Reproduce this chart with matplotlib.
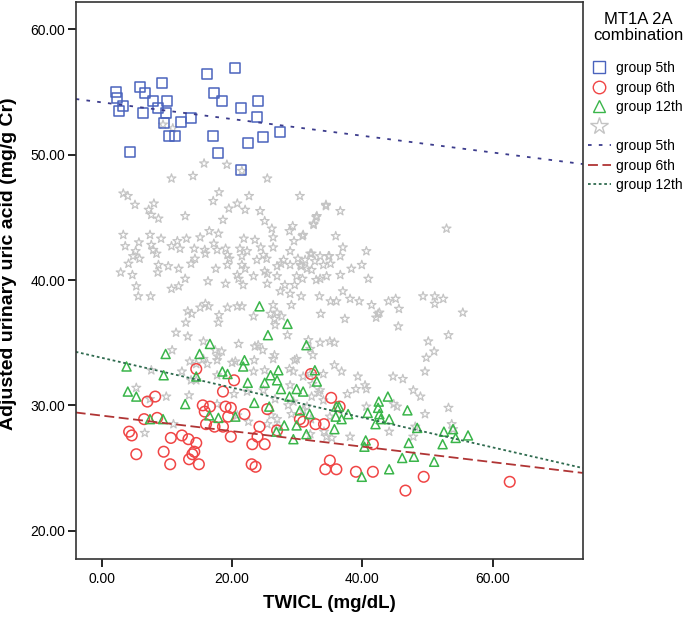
import numpy as np
import matplotlib
matplotlib.use("Agg")
from matplotlib import pyplot as plt
from matplotlib.lines import Line2D
from matplotlib.ticker import FormatStrFormatter

plt.rcParams['font.family'] = ['Liberation Sans', 'DejaVu Sans']

# group 5th (squares)
g5_x = [2.2, 2.3, 3.2, 2.7, 5.9, 6.6, 7.9, 9.2, 10.0, 8.7, 9.8, 6.3, 9.6, 12.2, 13.7,
        10.3, 11.2, 4.4, 16.2, 20.4, 17.2, 18.5, 21.3, 23.9, 23.8, 27.4, 24.8, 22.5, 17.1,
        17.9, 21.3]
g5_y = [55.0, 54.5, 53.9, 53.5, 55.4, 54.9, 54.3, 55.7, 54.3, 53.7, 53.3, 53.3, 52.5, 52.6,
        52.9, 51.5, 51.5, 50.2, 56.4, 56.9, 54.9, 54.3, 53.7, 54.3, 53.0, 51.8, 51.4, 50.9,
        51.5, 50.1, 48.8]

# group 6th (circles)
g6_x = [14.5, 20.3, 18.6, 32.1, 7.0, 8.2, 6.5, 8.5, 4.2, 4.6, 5.3, 10.6, 12.3, 13.3, 14.5,
        14.2, 13.9, 13.4, 14.9, 9.5, 10.5, 15.5, 16.6, 15.8, 19.0, 19.8, 19.4, 21.9, 25.4,
        16.0, 17.3, 18.6, 19.8, 24.2, 23.9, 23.1, 25.0, 26.9, 23.0, 23.6, 30.4, 30.9, 32.8,
        34.1, 35.2, 35.0, 34.3, 36.0, 36.5, 41.6, 39.0, 41.6, 49.4, 46.6, 62.6]
g6_y = [32.9, 32.0, 31.1, 32.5, 30.3, 30.7, 28.9, 29.0, 27.9, 27.6, 26.1, 27.4, 27.6, 27.3,
        27.0, 26.3, 26.1, 25.7, 25.3, 26.3, 25.3, 30.0, 29.9, 29.5, 29.9, 29.8, 29.1, 29.3,
        29.7, 28.5, 28.3, 28.3, 27.5, 28.3, 27.5, 26.9, 26.9, 28.0, 25.3, 25.1, 28.9, 28.7,
        28.5, 28.5, 30.6, 25.6, 24.9, 24.9, 29.9, 26.9, 24.7, 24.7, 24.3, 23.2, 23.9]

# group 12th (triangles)
g12_x = [24.2, 28.5, 25.5, 16.6, 9.8, 15.0, 31.4, 3.8, 9.5, 14.5, 18.5, 19.3, 21.9, 21.7,
         22.4, 25.0, 25.9, 27.1, 26.9, 33.0, 32.7, 4.0, 5.3, 12.8, 23.4, 25.7, 27.5, 29.9,
         30.9, 28.8, 30.4, 31.9, 36.0, 35.9, 16.5, 17.9, 20.5, 7.4, 9.4, 28.0, 29.9, 26.8,
         31.4, 29.4, 35.7, 36.4, 36.8, 37.8, 40.8, 42.5, 43.9, 42.4, 42.6, 42.8, 42.0, 44.1,
         46.9, 48.4, 40.5, 40.3, 47.1, 47.9, 46.1, 44.1, 39.9, 51.0, 52.3, 52.5, 53.9, 54.3,
         56.2]
g12_y = [37.9, 36.5, 35.6, 34.9, 34.1, 34.1, 34.8, 33.1, 32.4, 32.3, 32.7, 32.5, 33.6, 33.1,
         31.8, 31.8, 32.4, 32.8, 32.0, 31.9, 32.8, 31.1, 30.7, 30.1, 30.2, 29.9, 31.3, 31.3,
         31.1, 30.7, 29.6, 29.3, 29.9, 29.1, 29.2, 29.0, 29.1, 28.9, 28.9, 28.4, 28.4, 27.9,
         27.7, 27.3, 28.1, 29.9, 28.9, 29.3, 29.4, 30.3, 30.7, 29.8, 29.3, 28.9, 28.5, 28.9,
         29.6, 28.2, 27.2, 26.7, 27.0, 25.9, 25.8, 24.9, 24.3, 25.5, 26.9, 27.9, 28.1, 27.4,
         27.6]

# other combinations (stars)
oth_x = [15.7, 19.2, 10.7, 14.0, 21.5, 25.4, 3.3, 4.0, 5.1, 8.0, 7.2, 7.6, 8.7, 12.8, 18.0,
         17.1, 20.8, 22.6, 19.5, 22.0, 24.3, 30.4, 34.4, 18.6, 25.0, 26.1, 33.0, 32.5, 29.3,
         28.8, 3.3, 7.4, 9.1, 5.7, 3.6, 7.6, 11.6, 13.0, 15.1, 16.5, 17.9, 17.2, 21.8,
         23.5, 26.3, 29.5, 30.9, 10.7, 12.0, 14.2, 15.8, 17.7, 19.0, 21.2, 22.3, 24.4, 26.3,
         28.9, 32.0, 5.2, 7.9, 4.8, 5.8, 8.4, 14.3, 15.9, 19.3, 19.6, 21.5, 24.8, 25.3,
         23.8, 27.9, 30.1, 33.5, 34.9, 4.1, 8.7, 10.2, 11.8, 13.7, 17.5, 19.3, 21.5, 22.0,
         25.0, 26.9, 27.5, 28.9, 30.5, 31.5, 32.2, 34.0, 2.9, 4.7, 8.6, 12.8, 16.3, 20.8,
         21.0, 23.3, 25.4, 26.9, 29.9, 32.9, 33.5, 34.5, 21.7, 19.0, 11.8, 10.7, 5.3, 5.6,
         7.5, 25.4, 28.1, 29.6, 27.4, 28.9, 30.6, 33.4, 35.1, 36.0, 15.9, 15.1, 16.4, 19.3,
         20.8, 21.5, 26.3, 29.1, 13.2, 13.8, 23.3, 25.9, 26.9, 27.6, 18.0, 17.9, 12.9, 26.5,
         26.6, 33.6, 11.4, 13.2, 28.5, 24.0, 24.7, 21.0, 18.4, 17.8, 15.6, 17.4, 10.8, 31.7,
         33.5, 35.0, 32.0, 29.9, 26.3, 20.5, 13.5, 14.5, 34.4, 36.6, 32.9, 32.5, 30.8, 35.9,
         52.9, 32.2, 34.8, 37.0, 36.6, 40.6, 31.2, 32.7, 35.1, 30.6, 39.9, 38.3, 36.6, 40.9,
         30.8, 37.0, 38.1, 39.5, 41.4, 44.0, 45.1, 42.6, 42.1, 45.6, 49.3, 51.1, 52.4, 51.1,
         55.4, 37.3, 45.5, 53.2, 50.1, 51.0, 49.8, 35.7, 35.7, 42.4, 49.6, 36.8, 39.3, 40.4,
         40.6, 39.0, 37.7, 44.7, 46.2, 48.9, 45.3, 44.8, 49.6, 53.2, 53.7, 53.9, 38.1, 34.1,
         35.3, 32.0, 32.3, 33.3, 32.2, 30.9, 32.1, 40.6, 44.1, 47.8, 48.1, 47.8, 15.6, 17.7,
         23.5, 26.5, 23.4, 29.6, 32.4, 7.6, 12.3, 14.5, 13.7, 16.2, 17.7, 20.0, 23.3, 25.0,
         28.8, 29.4, 30.9, 34.0, 28.9, 24.8, 22.3, 20.3, 9.9, 13.4, 5.3, 7.4, 17.7, 26.6,
         29.4, 31.5, 33.5, 34.0, 26.0, 26.9, 29.1, 26.9, 25.4, 22.5, 20.8, 6.6, 11.0, 35.0,
         34.5, 32.0, 28.6, 9.4, 10.9]
oth_y = [49.3, 49.2, 48.1, 48.3, 48.7, 48.1, 46.9, 46.7, 46.0, 46.1, 45.6, 45.2, 44.9, 45.1,
         47.0, 46.3, 46.1, 46.7, 45.7, 45.6, 45.5, 46.7, 46.0, 44.8, 44.7, 44.1, 45.1, 44.5,
         44.3, 43.9, 43.6, 43.6, 43.3, 43.0, 42.7, 42.8, 43.1, 43.3, 43.4, 43.9, 43.7, 42.9,
         43.3, 43.2, 43.4, 43.1, 43.6, 42.7, 42.5, 42.5, 42.4, 42.4, 42.5, 42.5, 42.3, 42.6,
         42.6, 42.3, 42.1, 42.3, 42.4, 41.9, 41.7, 42.1, 41.7, 42.1, 42.0, 41.7, 41.9, 42.0,
         41.7, 41.6, 41.6, 41.7, 41.9, 41.9, 41.3, 41.2, 41.1, 40.9, 41.3, 40.9, 41.2, 41.2,
         40.9, 40.7, 41.1, 41.3, 41.2, 41.2, 40.9, 40.8, 41.2, 40.6, 40.4, 40.6, 40.1, 39.9,
         40.4, 40.1, 40.3, 40.5, 40.3, 40.3, 40.0, 40.1, 40.3, 39.6, 39.7, 39.5, 39.3, 39.5,
         38.7, 38.7, 39.7, 39.6, 39.6, 39.1, 38.9, 38.7, 38.7, 38.3, 38.3, 38.1, 37.8, 37.9,
         37.8, 37.9, 37.9, 38.0, 38.0, 37.5, 37.3, 37.1, 37.3, 37.4, 37.1, 37.2, 36.6, 36.6,
         36.9, 36.4, 37.3, 35.8, 35.5, 35.6, 34.8, 34.4, 34.9, 34.3, 33.9, 35.1, 34.4, 34.4,
         35.2, 35.0, 35.1, 34.5, 33.7, 33.7, 33.5, 33.5, 33.3, 45.9, 45.5, 45.0, 44.4, 43.5,
         43.5, 44.1, 42.1, 41.9, 42.6, 41.9, 42.3, 41.6, 41.5, 41.3, 41.1, 41.2, 40.9, 40.4,
         40.1, 40.1, 39.1, 38.5, 38.3, 38.0, 38.3, 38.5, 37.4, 37.0, 37.7, 38.7, 38.7, 38.5,
         38.1, 37.4, 36.9, 36.3, 35.6, 35.1, 34.3, 33.8, 35.0, 33.2, 37.3, 32.7, 32.7, 32.3,
         31.6, 31.3, 31.3, 30.9, 32.3, 32.1, 30.7, 29.9, 30.1, 29.3, 29.8, 28.5, 28.1, 27.5,
         27.9, 27.4, 32.5, 31.7, 31.0, 30.7, 29.6, 28.9, 29.9, 27.9, 27.5, 28.3, 31.2, 33.7,
         33.6, 34.7, 34.0, 33.6, 33.6, 34.0, 32.8, 32.7, 32.0, 32.0, 33.3, 32.4, 33.4, 32.7,
         32.8, 32.9, 32.7, 32.3, 32.5, 31.6, 31.2, 31.1, 30.9, 30.7, 30.8, 31.4, 30.5, 30.1,
         30.5, 30.3, 29.9, 31.2, 30.4, 29.2, 28.9, 29.3, 28.3, 28.5, 28.7, 29.2, 27.8, 28.5,
         29.1, 27.5, 27.7, 30.0, 52.4, 52.1]

# fit lines, read at the left and right edges of the plot
x_range = [-4.0, 73.8]
fit5 = [54.44, 49.25]
fit6 = [29.43, 24.61]
fit12 = [34.27, 25.0]

c5 = "#4a63bd"
c6 = "#f04545"
c12 = "#3ab54a"
c_oth = "#c4c4c4"
l5 = "#3c3c8c"
l6 = "#b03535"
l12 = "#2f6b4f"
ls5 = (0, (2, 4))
ls6 = (0, (5.5, 2.5))
ls12 = (0, (1.5, 1.5))

fig = plt.figure(figsize=(6.85, 6.21), dpi=100)
ax = fig.add_axes([0.1105, 0.0998, 0.7402, 0.897])

ax.scatter(oth_x, oth_y, marker="*", s=45, facecolors="none", edgecolors=c_oth, linewidths=0.9)
ax.scatter(g5_x, g5_y, marker="s", s=52, facecolors="none", edgecolors=c5, linewidths=1.1)
ax.scatter(g6_x, g6_y, marker="o", s=58, facecolors="none", edgecolors=c6, linewidths=1.1)
ax.scatter(g12_x, g12_y, marker="^", s=42, facecolors="none", edgecolors=c12, linewidths=1.1)

ax.plot(x_range, fit5, color=l5, linestyle=ls5, linewidth=1.3)
ax.plot(x_range, fit6, color=l6, linestyle=ls6, linewidth=1.3)
ax.plot(x_range, fit12, color=l12, linestyle=ls12, linewidth=1.3)

ax.set_xlim(-4.0, 73.8)
ax.set_ylim(17.74, 62.18)
ax.set_xticks([0, 20, 40, 60])
ax.set_yticks([20, 30, 40, 50, 60])
ax.xaxis.set_major_formatter(FormatStrFormatter("%.2f"))
ax.yaxis.set_major_formatter(FormatStrFormatter("%.2f"))
ax.tick_params(direction="out", length=5.5, width=1.2, labelsize=10, colors="black")
ax.tick_params(axis="y", pad=2)
ax.tick_params(axis="x", pad=3.5)
for sp in ax.spines.values():
    sp.set_linewidth(1.2)
    sp.set_color("#333333")

ax.set_xlabel("TWICL (mg/dL)", fontsize=13.5, fontweight="bold", va="top")
ax.xaxis.set_label_coords(0.5, -0.064)
ax.set_ylabel("Adjusted urinary uric acid (mg/g Cr)", fontsize=14, fontweight="bold")
ax.yaxis.set_label_coords(-0.116, 0.53)

# legend title as its own text, legend entries below it
fig.text(638 / 685, 1 - 12 / 621, "MT1A 2A\ncombination", ha="center", va="top",
         fontsize=12, linespacing=1.1)

handles = [
    Line2D([], [], marker="s", linestyle="none", markerfacecolor="none", markeredgecolor=c5, markersize=9),
    Line2D([], [], marker="o", linestyle="none", markerfacecolor="none", markeredgecolor=c6, markersize=9),
    Line2D([], [], marker="^", linestyle="none", markerfacecolor="none", markeredgecolor=c12, markersize=8),
    Line2D([], [], marker="*", linestyle="none", markerfacecolor="none", markeredgecolor=c_oth, markersize=13),
    Line2D([], [], color=l5, linestyle=ls5, linewidth=1.3),
    Line2D([], [], color=l6, linestyle=ls6, linewidth=1.3),
    Line2D([], [], color=l12, linestyle=ls12, linewidth=1.3),
]
labels = ["group 5th", "group 6th", "group 12th", " ", "group 5th", "group 6th", "group 12th"]
leg = fig.legend(handles, labels, loc="upper left", bbox_to_anchor=(588 / 685, 1 - 61 / 621),
                 frameon=False, fontsize=10, handlelength=1.65, handletextpad=0.35,
                 labelspacing=0.4, borderaxespad=0, borderpad=0)

fig.savefig("out.png", dpi=100)
